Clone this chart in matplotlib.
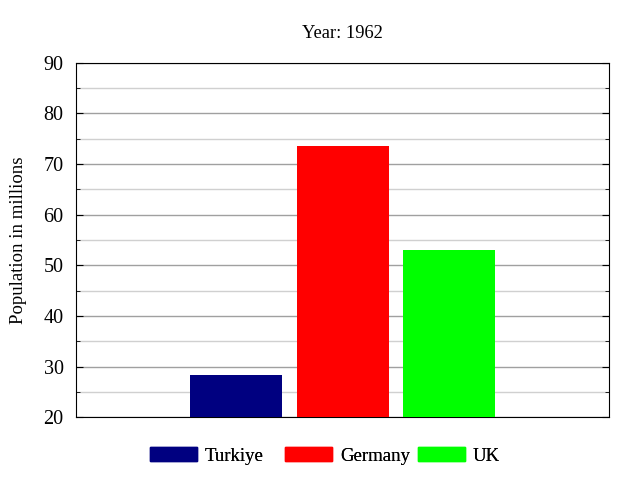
import matplotlib
matplotlib.use("Agg")
import matplotlib.pyplot as plt
from matplotlib.patches import Patch
from matplotlib.ticker import MultipleLocator

COUNTRIES = ['Turkiye', 'Germany', 'UK']
POPULATION = [28.3, 73.6, 53.1]
COLORS = ['#000080', '#ff0000', '#00ff00']
YEAR = 1962

plt.rcParams['font.family'] = ['Liberation Serif', 'DejaVu Serif']

fig = plt.figure(figsize=(6.4, 4.8), dpi=100)
ax = fig.add_axes([0.119, 0.131, 0.833, 0.738])

for idx in range(len(COUNTRIES)):
    ax.bar(idx, POPULATION[idx], width=0.86, color=COLORS[idx], label=COUNTRIES[idx], zorder=3)

ax.set_xlim(-1.5, 3.5)
ax.set_ylim(20, 90)
ax.set_xticks([])
ax.yaxis.set_major_locator(MultipleLocator(10))
ax.yaxis.set_minor_locator(MultipleLocator(5))
ax.grid(axis='y', which='major', color='#a0a0a0', linewidth=1, zorder=0)
ax.grid(axis='y', which='minor', color='#d0d0d0', linewidth=1, zorder=0)
ax.tick_params(axis='y', which='both', direction='in', left=True, right=True, labelsize=14.5, pad=9)
ax.tick_params(axis='y', which='major', length=5)
ax.tick_params(axis='y', which='minor', length=3)
ax.set_ylabel('Population in millions', fontsize=13.5, labelpad=12)
ax.set_title('Year: %d' % YEAR, fontsize=13.3, pad=18)

# legend entries in equal-width columns below the plot
legend_x = [150 / 640, 285 / 640, 418 / 640]
for idx in range(len(COUNTRIES)):
    lg = fig.legend(handles=[Patch(color=COLORS[idx], label=COUNTRIES[idx])],
                    loc='center left', bbox_to_anchor=(legend_x[idx], 1 - 456 / 480),
                    frameon=False, fontsize=13.5, handlelength=2.5, handleheight=0.7,
                    handletextpad=0.43, borderpad=0, borderaxespad=0)
    fig.add_artist(lg)

plt.savefig('out.png')
